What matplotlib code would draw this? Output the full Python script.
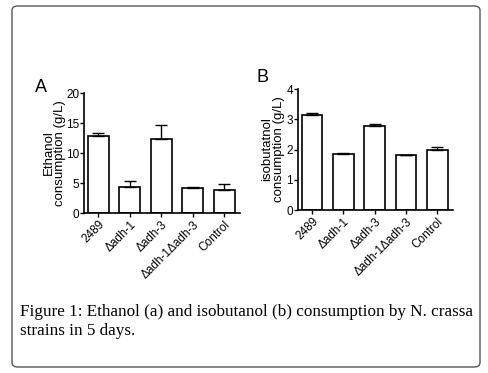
import matplotlib
matplotlib.use("Agg")
import matplotlib.pyplot as plt
import numpy as np
from matplotlib.patches import FancyBboxPatch

strains = ["2489", "Δadh-1", "Δadh-3", "Δadh-1Δadh-3", "Control"]
ethanol = [12.8, 4.3, 12.3, 4.1, 3.9]
ethanol_err = [0.6, 1.1, 2.3, 0.2, 1.0]
isobutanol = [3.15, 1.85, 2.78, 1.81, 2.0]
isobutanol_err = [0.07, 0.03, 0.05, 0.02, 0.08]

plt.rcParams['font.family'] = ['Liberation Sans', 'DejaVu Sans']

W, H = 489, 373
fig = plt.figure(figsize=(W / 100, H / 100), dpi=100)


def panel(rect, vals, errs, ymax, step, ylabel, lab_x, letter, letter_xy):
    ax = fig.add_axes(rect)
    x = np.arange(len(vals))
    ax.bar(x, vals, 0.66, color="white", edgecolor="black", linewidth=1.2,
           yerr=[np.zeros(len(errs)), errs], capsize=4,
           error_kw=dict(elinewidth=1.0, capthick=1.0, ecolor="black"))
    ax.set_xlim(-0.45, len(vals) - 0.5)
    ax.set_ylim(0, ymax)
    ax.set_yticks(np.arange(0, ymax + step / 2, step))
    ax.set_xticks(x)
    ax.set_xticklabels(strains, rotation=45, ha="right", rotation_mode="anchor",
                       fontsize=8.5)
    ax.tick_params(axis="y", labelsize=8.5, length=3, width=1, pad=0.5)
    ax.tick_params(axis="x", length=3, width=1, pad=1)
    for s in ["top", "right"]:
        ax.spines[s].set_visible(False)
    for s in ["left", "bottom"]:
        ax.spines[s].set_linewidth(1.2)
    ax.set_ylabel(ylabel, fontsize=9.5, linespacing=0.95)
    ax.yaxis.set_label_coords(lab_x, 0.5)
    fig.text(letter_xy[0] / W, 1 - letter_xy[1] / H, letter, fontsize=13,
             ha="center", va="center")
    return ax


panel([84 / W, 1 - 213 / H, 156 / W, 120 / H], ethanol, ethanol_err, 20, 5,
      "Ethanol\nconsumption (g/L)", -0.115, "A", (41, 88))
panel([298 / W, 1 - 210 / H, 155 / W, 121 / H], isobutanol, isobutanol_err, 4, 1,
      "isobutatnol\nconsumption (g/L)", -0.085, "B", (263, 78))

fig.text(20 / W, 1 - 312 / H,
         "Figure 1: Ethanol (a) and isobutanol (b) consumption by N. crassa",
         family="Liberation Serif", fontsize=12.3, ha="left", va="center")
fig.text(20 / W, 1 - 331 / H, "strains in 5 days.",
         family="Liberation Serif", fontsize=12.3, ha="left", va="center")

box = FancyBboxPatch((12 / W, 6 / H), 468 / W, 361 / H,
                     boxstyle="round,pad=0,rounding_size=0.012",
                     transform=fig.transFigure, facecolor="none",
                     edgecolor="#555555", linewidth=1.0)
fig.patches.append(box)

fig.savefig("out.png", dpi=100)
